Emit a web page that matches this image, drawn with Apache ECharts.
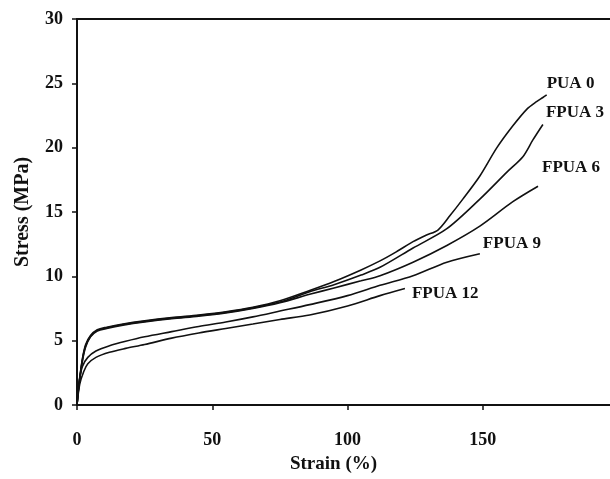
<!DOCTYPE html>
<html>
<head>
<meta charset="utf-8">
<script src="https://cdn.jsdelivr.net/npm/echarts@6/dist/echarts.min.js"></script>
<style>
html,body{margin:0;padding:0;background:#fff;}
#chart{width:610px;height:479px;}
</style>
</head>
<body>
<div id="chart"></div>
<script>
// Stress–strain curves: [strain (%), stress (MPa)]
const pua0 = [[0,0],[0.7,1.6],[2,3.6],[3.2,4.7],[5,5.4],[7.5,5.85],[11,6.05],[17,6.3],[25,6.55],[35,6.8],[45,7.0],[55,7.25],[65,7.6],[75,8.1],[86,8.9],[95,9.6],[105,10.5],[112,11.2],[118,11.9],[124.2,12.7],[129,13.2],[133.4,13.6],[137.8,14.7],[142.6,16.0],[148.9,17.8],[155.2,20.0],[161.1,21.7],[166.3,23.0],[170,23.6],[172.2,23.9],[173.6,24.1]];
const fpua3 = [[0,0],[0.7,1.5],[2,3.5],[3.2,4.6],[5,5.35],[7.5,5.8],[11,6.0],[17,6.25],[25,6.5],[35,6.75],[45,6.95],[55,7.2],[65,7.55],[75,8.0],[86,8.8],[95,9.35],[105,10.1],[112,10.7],[124.2,12.2],[136.7,13.7],[148.9,16.0],[158.9,18.1],[164.8,19.3],[168.5,20.6],[172.2,21.8]];
const fpua6 = [[0,0],[0.7,1.5],[2,3.4],[3.2,4.5],[5,5.3],[7.5,5.75],[11,5.95],[17,6.2],[25,6.45],[35,6.7],[45,6.9],[55,7.15],[65,7.5],[75,7.95],[86,8.6],[95,9.1],[105,9.65],[112,10.05],[124.2,11.1],[136.7,12.4],[148.9,13.9],[161.1,15.8],[170.4,17.0]];
const fpua9 = [[0,0],[0.8,1.8],[2,3.0],[4,3.7],[7,4.2],[12,4.6],[18,4.95],[25,5.3],[35,5.7],[45,6.1],[55,6.45],[65,6.85],[75,7.3],[86,7.8],[100,8.5],[112,9.3],[124.2,10.05],[136.7,11.1],[148.9,11.76]];
const fpua12 = [[0,0],[1,1.6],[2.5,2.6],[4,3.2],[7,3.7],[12,4.1],[18,4.4],[25,4.7],[35,5.2],[45,5.6],[55,5.95],[65,6.3],[75,6.65],[86,7.0],[100,7.7],[112,8.5],[121.2,9.05]];

const seriesNames = ['PUA 0','FPUA 3','FPUA 6','FPUA 9','FPUA 12'];
const seriesData = [pua0, fpua3, fpua6, fpua9, fpua12];
const labelOffsets = [[0,-11],[3,-12],[4,-19],[3,-10],[7,5]];

const xTicks = [0,50,100,150];
const yTicks = [0,5,10,15,20,25,30];

const font = '"Liberation Serif", "DejaVu Serif", serif';
const ink = '#111';

const chart = echarts.init(document.getElementById('chart'), null, {renderer:'canvas'});
chart.setOption({
  animation:false,
  backgroundColor:'#fff',
  grid:{left:77, top:19, right:0, bottom:72, containLabel:false},
  xAxis:[{
    type:'value', min:0, max:197, interval:50,
    name:'Strain (%)', nameLocation:'middle', nameGap:50,
    nameTextStyle:{fontFamily:font, fontWeight:'bold', fontSize:19, color:ink, padding:[0,20,0,0]},
    axisLine:{show:true, lineStyle:{color:ink, width:2}},
    axisTick:{show:true, length:5, lineStyle:{color:ink, width:1.5}},
    axisLabel:{fontFamily:font, fontWeight:'bold', fontSize:18, color:ink, margin:26,
      showMaxLabel:false,
      formatter:v => xTicks.indexOf(v) >= 0 ? String(v) : ''},
    splitLine:{show:false}
  },{
    type:'value', position:'top', min:0, max:197,
    axisLine:{show:true, lineStyle:{color:ink, width:2}},
    axisTick:{show:false}, axisLabel:{show:false}, splitLine:{show:false}
  }],
  yAxis:{
    type:'value', min:0, max:30, interval:5,
    name:'Stress (MPa)', nameLocation:'middle', nameGap:44,
    nameTextStyle:{fontFamily:font, fontWeight:'bold', fontSize:20, color:ink},
    axisLine:{show:true, lineStyle:{color:ink, width:2}},
    axisTick:{show:true, length:5, lineStyle:{color:ink, width:1.5}},
    axisLabel:{fontFamily:font, fontWeight:'bold', fontSize:18, color:ink, margin:14,
      formatter:v => yTicks.indexOf(v) >= 0 ? String(v) : ''},
    splitLine:{show:false}
  },
  series: seriesNames.map((name, i) => ({
    name:name, type:'line', data:seriesData[i], showSymbol:false, smooth:0.3,
    lineStyle:{color:ink, width:1.6},
    endLabel:{show:true, formatter:'{a}', distance:0, offset:labelOffsets[i],
      fontFamily:font, fontWeight:'bold', fontSize:17, color:ink}
  }))
});
</script>
</body>
</html>
